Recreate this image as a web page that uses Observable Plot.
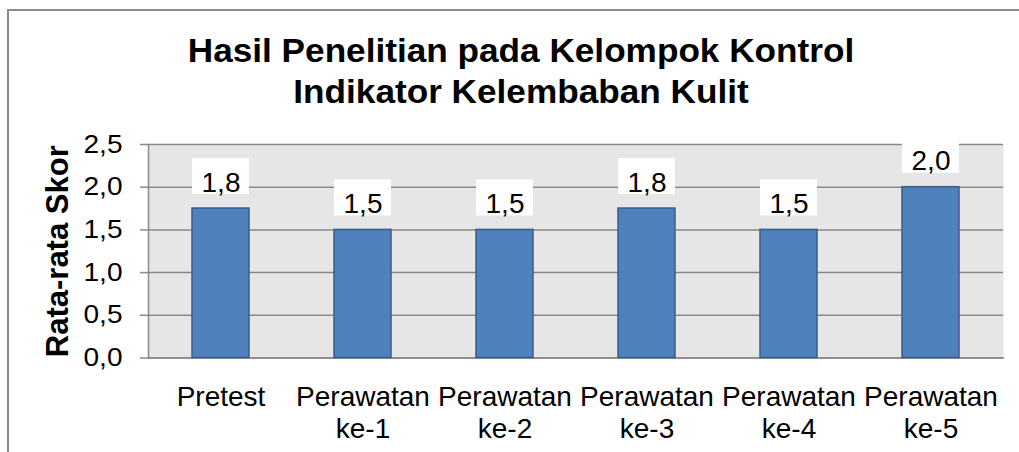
<!DOCTYPE html>
<html><head><meta charset="utf-8">
<script src="https://cdn.jsdelivr.net/npm/d3@7"></script>
<script src="https://cdn.jsdelivr.net/npm/@observablehq/plot@0.6"></script>
<style>
html,body{margin:0;background:#fff;overflow:hidden;font-family:"Liberation Sans",Arial,sans-serif;}
#wrap{position:relative;width:1019px;height:452px;overflow:hidden;}
#border{position:absolute;left:6.5px;top:9px;width:1100px;height:500px;border-left:2px solid #8c8c8c;border-top:2px solid #8c8c8c;}
#titlebox{position:relative;height:112px;}
#title{position:absolute;left:0;top:0;width:1042px;box-sizing:border-box;padding-top:30px;text-align:center;font-weight:bold;font-size:33.5px;line-height:41px;color:#000;transform:scaleX(1.05);transform-origin:50% 0;}
#chart{position:relative;}
</style></head><body>
<div id="wrap"><div id="border"></div><div id="titlebox"><div id="title">Hasil Penelitian pada Kelompok Kontrol<br>Indikator Kelembaban Kulit</div></div><div id="chart"></div></div>
<script>
const categories = ["Pretest", "Perawatan ke-1", "Perawatan ke-2", "Perawatan ke-3", "Perawatan ke-4", "Perawatan ke-5"];
const categoryLabels = ["Pretest", "Perawatan\nke-1", "Perawatan\nke-2", "Perawatan\nke-3", "Perawatan\nke-4", "Perawatan\nke-5"];
const values = [1.75, 1.5, 1.5, 1.75, 1.5, 2.0];
const yTicks = [0, 0.5, 1.0, 1.5, 2.0, 2.5];
const yTitle = "Rata-rata Skor";

const fmt = v => v.toFixed(1).replace(".", ",");
const labelOf = new Map(categories.map((c, i) => [c, categoryLabels[i]]));
const data = categories.map((c, i) => ({cat: c, value: values[i], label: fmt(values[i])}));

const chart = Plot.plot({
  width: 1019, height: 340,
  marginLeft: 148, marginRight: 16, marginTop: 32, marginBottom: 94.5,
  style: {fontFamily: "Liberation Sans, Arial, sans-serif", fontSize: "28px", color: "#000", background: "transparent"},
  x: {domain: categories, paddingInner: 0.6, paddingOuter: 0.3, label: null},
  y: {domain: [0, 2.5], label: null},
  marks: [
    Plot.frame({fill: "#e6e6e6", stroke: null}),
    Plot.gridY(yTicks, {stroke: "#898989", strokeOpacity: 1, strokeWidth: 1.5}),
    Plot.axisY(yTicks, {tickSize: 8, tickPadding: 18, tickFormat: fmt, stroke: "#898989", strokeWidth: 1.5, fontSize: 25.5, fill: "#000", label: null}),
    Plot.axisX({tickSize: 0, tickPadding: 26, tickFormat: c => labelOf.get(c), fontSize: 28, lineHeight: 1.13, fill: "#000", label: null}),
    Plot.frame({anchor: "left", stroke: "#898989", strokeWidth: 1.5}),
    Plot.frame({anchor: "bottom", stroke: "#898989", strokeWidth: 1.5}),
    Plot.barY(data, {x: "cat", y: "value", fill: "#4f81bd", stroke: "#385d8a", strokeWidth: 1.5}),
    Plot.barY(data, {x: "cat", y1: "value", y2: "value", fill: "white", insetTop: -50, insetBottom: 14}),
    Plot.text(data, {x: "cat", y: "value", text: "label", dy: -26, fontSize: 28, fill: "#000"}),
    Plot.text([yTitle], {frameAnchor: "left", textAnchor: "middle", rotate: -90, dx: -90, fontSize: 31, fontWeight: "bold", fill: "#000", text: d => d})
  ]
});
// horizontal stretch of tick label glyphs as in the reference
d3.select(chart).selectAll('g[aria-label="y-axis tick label"] text').each(function() {
  const t = this.getAttribute("transform") || "";
  this.setAttribute("transform", t + " scale(1.1,1)");
});
document.getElementById("chart").appendChild(chart);
</script>
</body></html>
